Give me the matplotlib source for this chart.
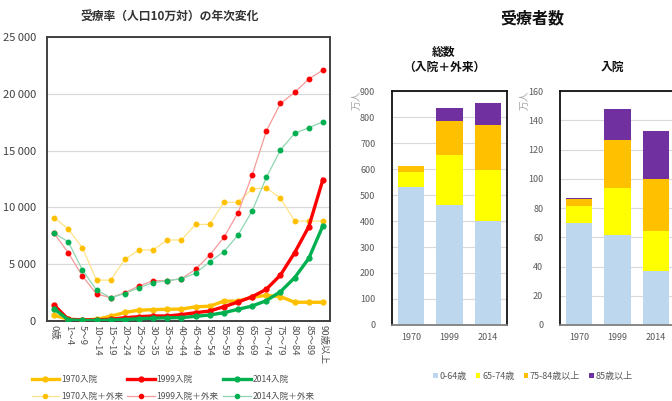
import matplotlib
matplotlib.use("Agg")
import matplotlib.pyplot as plt
from matplotlib.lines import Line2D
from matplotlib.patches import Patch
import numpy as np

plt.rcParams['font.family'] = ['Noto Sans CJK JP', 'DejaVu Sans']

age_labels = ["0歳", "1～4", "5～9", "10～14", "15～19", "20～24", "25～29", "30～35",
              "35～39", "40～44", "45～49", "50～54", "55～59", "60～64", "65～69",
              "70～74", "75～79", "80～84", "85～89", "90歳以上"]

inpatient_1970 = [500, 150, 100, 150, 420, 750, 950, 1000, 1030, 1050, 1250, 1300,
                  1750, 1750, 2100, 2250, 2150, 1650, 1650, 1650]
inpatient_1999 = [1400, 150, 100, 100, 150, 290, 380, 440, 440, 560, 730, 880,
                  1260, 1670, 2140, 2790, 4050, 6010, 8300, 12450]
inpatient_2014 = [1080, 100, 50, 50, 80, 130, 200, 250, 280, 300, 410, 530,
                  730, 1030, 1320, 1790, 2580, 3810, 5510, 8390]
total_1970 = [9100, 8100, 6450, 3600, 3600, 5430, 6250, 6250, 7130, 7130, 8500, 8500,
              10450, 10450, 11620, 11730, 10800, 8800, 8800, 8800]
total_1999 = [7720, 6010, 3960, 2380, 2050, 2490, 3080, 3550, 3550, 3720, 4550, 5800,
              7360, 9530, 12850, 16720, 19150, 20120, 21300, 22090]
total_2014 = [7720, 6980, 4490, 2730, 2050, 2420, 2930, 3370, 3550, 3720, 4200, 5220,
              6100, 7570, 9680, 12640, 15050, 16520, 17010, 17540]

years = ["1970", "1999", "2014"]
groups = ["0-64歳", "65-74歳", "75-84歳以上", "85歳以上"]
total_counts = {
    "0-64歳": [530, 462, 401],
    "65-74歳": [60, 192, 195],
    "75-84歳以上": [20, 131, 173],
    "85歳以上": [3, 48, 84],
}
inpatient_counts = {
    "0-64歳": [70, 61.5, 37],
    "65-74歳": [11.5, 32.5, 27],
    "75-84歳以上": [4.5, 32.5, 36],
    "85歳以上": [0.8, 21.5, 32.5],
}

group_colors = ["#BDD7EE", "#FFFF00", "#FFC000", "#7030A0"]

W, H = 672, 401
fig = plt.figure(figsize=(W / 100, H / 100), dpi=100)

def fx(px):
    return px / W

def fy(py):
    return 1 - py / H

# ---------------- Line chart ----------------
ax = fig.add_axes([fx(47), fy(321), fx(330 - 47), (321 - 37) / H])
x = np.arange(len(age_labels))

c70, c99, c14 = "#FFC000", "#FF0000", "#00B050"
thin70, thin99, thin14 = "#FFE38A", "#F59A9A", "#8FD6B0"

ax.plot(x, total_1970, color=thin70, lw=0.9, marker='o', ms=3.2, mfc=c70, mec=c70, zorder=2)
ax.plot(x, total_1999, color=thin99, lw=0.9, marker='o', ms=3.2, mfc=c99, mec=c99, zorder=2)
ax.plot(x, total_2014, color=thin14, lw=0.9, marker='o', ms=3.2, mfc=c14, mec=c14, zorder=2)
ax.plot(x, inpatient_1970, color=c70, lw=2.4, marker='o', ms=3.5, zorder=3)
ax.plot(x, inpatient_1999, color=c99, lw=2.4, marker='o', ms=3.5, zorder=4)
ax.plot(x, inpatient_2014, color=c14, lw=2.4, marker='o', ms=3.5, zorder=5)

ax.set_xlim(-0.5, len(age_labels) - 0.5)
ax.set_ylim(0, 25000)
yt = np.arange(0, 25001, 5000)
ax.set_yticks(yt)
ax.set_yticklabels([f"{v:,}".replace(",", " ") for v in yt], fontsize=8, color="#404040")
ax.set_xticks(x)
ax.set_xticklabels(age_labels, rotation=-90, fontsize=6.8, color="#505050", va='top', ha='center')
ax.tick_params(axis='both', length=0, pad=3)
ax.tick_params(axis='y', pad=8)
ax.grid(axis='y', color="#D9D9D9", lw=0.9)
ax.set_axisbelow(True)
for s in ax.spines.values():
    s.set_color("#404040")
    s.set_linewidth(1.4)

fig.text(fx(170), fy(16), "受療率（人口10万対）の年次変化", ha='center', va='center',
         fontsize=8.5, fontweight='bold', color="#333333")

# legend for line chart (row-wise order)
h70 = Line2D([], [], color=c70, lw=2.4, marker='o', ms=3.5, label="1970入院")
h99 = Line2D([], [], color=c99, lw=2.4, marker='o', ms=3.5, label="1999入院")
h14 = Line2D([], [], color=c14, lw=2.4, marker='o', ms=3.5, label="2014入院")
t70 = Line2D([], [], color=thin70, lw=0.9, marker='o', ms=3, mfc=c70, mec=c70, label="1970入院＋外来")
t99 = Line2D([], [], color=thin99, lw=0.9, marker='o', ms=3, mfc=c99, mec=c99, label="1999入院＋外来")
t14 = Line2D([], [], color=thin14, lw=0.9, marker='o', ms=3, mfc=c14, mec=c14, label="2014入院＋外来")
fig.legend(handles=[h70, t70, h99, t99, h14, t14], ncol=3, loc='center',
           bbox_to_anchor=(fx(173), fy(388)),
           frameon=False, fontsize=6.2, handlelength=3.2, handletextpad=0.2,
           columnspacing=0.5, labelspacing=0.85, labelcolor="#505050")

# ---------------- Bar charts ----------------
fig.text(fx(532), fy(18), "受療者数", ha='center', va='center', fontsize=11.5,
         fontweight='bold', color="#111111")

def bar_chart(left_px, data, ymax, ystep, title, title_y):
    bax = fig.add_axes([fx(left_px), fy(325), fx(115), (325 - 91) / H])
    xb = np.arange(len(years))
    bottom = np.zeros(len(years))
    for g, col in zip(groups, group_colors):
        vals = np.array(data[g])
        bax.bar(xb, vals, bottom=bottom, width=0.68, color=col, zorder=2)
        bottom += vals
    bax.set_xlim(-0.5, 2.5)
    bax.set_ylim(0, ymax)
    bax.set_yticks(np.arange(0, ymax + 1, ystep))
    bax.set_xticks(xb)
    bax.set_xticklabels(years)
    bax.tick_params(axis='both', length=0, labelsize=6.5, colors="#595959")
    bax.tick_params(axis='y', pad=12)
    bax.tick_params(axis='x', pad=6)
    bax.grid(axis='y', color="#D9D9D9", lw=0.8, zorder=0)
    bax.set_axisbelow(True)
    for s in bax.spines.values():
        s.set_color("#111111")
        s.set_linewidth(1.3)
    bax.spines['bottom'].set_color("#7F7F7F")
    fig.text(fx(left_px - 35), fy(100), "万人", rotation=90, ha='center', va='center',
             fontsize=7, color="#A6A6A6")
    fig.text(fx(left_px + 52), fy(title_y), title, ha='center', va='center', fontsize=8.5,
             fontweight='bold', color="#111111", linespacing=1.15)
    return bax

bar_chart(392, total_counts, 900, 100, "総数\n（入院＋外来）", 60)
bar_chart(560, inpatient_counts, 160, 20, "入院", 67)

leg_handles = [Patch(facecolor=c, edgecolor='none', label=g) for g, c in zip(groups, group_colors)]
fig.legend(handles=leg_handles, ncol=4, loc='center', bbox_to_anchor=(fx(533), fy(376)),
           frameon=False, fontsize=6.5, handlelength=0.5, handleheight=0.5, handletextpad=0.2,
           columnspacing=1.0, labelcolor="#595959")

fig.savefig("out.png", dpi=100)
